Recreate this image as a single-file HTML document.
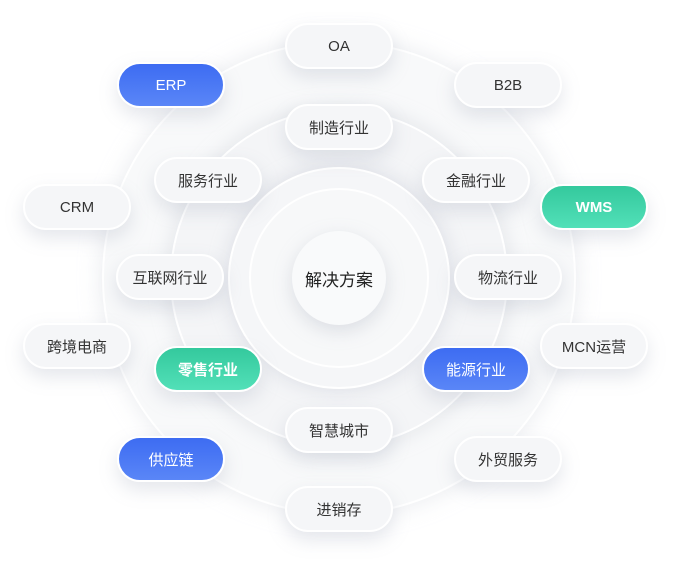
<!DOCTYPE html>
<html><head><meta charset="utf-8"><style>
body{margin:0;width:688px;height:571px;background:#fff;position:relative;overflow:hidden;font-family:"Liberation Sans","Noto Sans CJK SC",sans-serif}
.c{position:absolute;border-radius:50%;box-sizing:border-box}
.p{position:absolute;width:108px;height:46px;margin:-23px 0 0 -54px;border-radius:23px;background:#f5f6f8;border:2px solid #fff;box-sizing:border-box;box-shadow:0 8px 18px rgba(150,160,180,.25);display:flex;align-items:center;justify-content:center;font-size:15px;color:#333}
.b{background:linear-gradient(180deg,#3d6cf2,#5a86f7);color:#fff}
.g{background:linear-gradient(180deg,#34c99d,#52e0b8);color:#fff;font-weight:bold}
</style></head><body>
<div class="c" style="left:102px;top:41px;width:474px;height:474px;background:#f8f9fa;border:2px solid #fff;box-shadow:0 0 24px rgba(200,205,215,.4)"></div>
<div class="c" style="left:170px;top:109px;width:338px;height:338px;background:#f4f5f7;border:2px solid #fff;box-shadow:0 0 22px rgba(190,195,205,.4)"></div>
<div class="c" style="left:228px;top:167px;width:222px;height:222px;background:#f5f6f8;border:2px solid #fff;box-shadow:0 0 20px rgba(180,185,200,.4)"></div>
<div class="c" style="left:249px;top:188px;width:180px;height:180px;background:#f7f8f9;border:2px solid #fff"></div>
<div class="c" style="left:292px;top:231px;width:94px;height:94px;background:#f9fafb;box-shadow:0 6px 18px rgba(170,175,190,.35);display:flex;align-items:center;justify-content:center;font-size:17px;color:#222">解决方案</div>
<div class="p" style="left:339px;top:46px">OA</div>
<div class="p b" style="left:171px;top:85px">ERP</div>
<div class="p" style="left:508px;top:85px">B2B</div>
<div class="p" style="left:339px;top:127px">制造行业</div>
<div class="p" style="left:208px;top:180px">服务行业</div>
<div class="p" style="left:476px;top:180px">金融行业</div>
<div class="p" style="left:77px;top:207px">CRM</div>
<div class="p g" style="left:594px;top:207px">WMS</div>
<div class="p" style="left:170px;top:277px">互联网行业</div>
<div class="p" style="left:508px;top:277px">物流行业</div>
<div class="p" style="left:77px;top:346px">跨境电商</div>
<div class="p g" style="left:208px;top:369px">零售行业</div>
<div class="p b" style="left:476px;top:369px">能源行业</div>
<div class="p" style="left:594px;top:346px">MCN运营</div>
<div class="p" style="left:339px;top:430px">智慧城市</div>
<div class="p b" style="left:171px;top:459px">供应链</div>
<div class="p" style="left:508px;top:459px">外贸服务</div>
<div class="p" style="left:339px;top:509px">进销存</div>
</body></html>
